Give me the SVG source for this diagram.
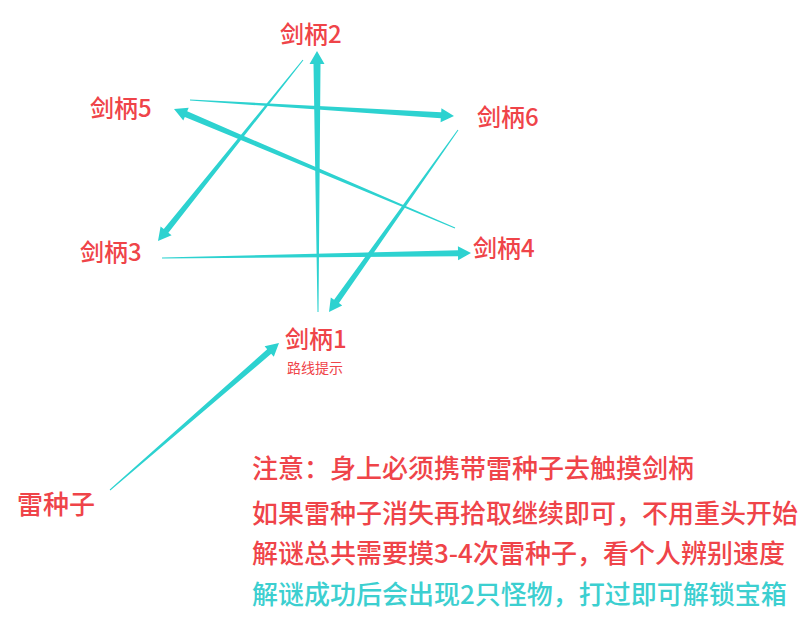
<svg xmlns="http://www.w3.org/2000/svg" width="808" height="625" viewBox="0 0 808 625">
<style>
.lbl{font-family:"Noto Sans CJK SC","Noto Sans",sans-serif;fill:#ef4449;font-size:24px;font-weight:500}
.sub{font-family:"Noto Sans CJK SC","Noto Sans",sans-serif;fill:#ef4449;font-size:14px}
.note{font-family:"Noto Sans CJK SC","Noto Sans",sans-serif;fill:#ef4449;font-size:26px;font-weight:500}
.note2{font-family:"Noto Sans CJK SC","Noto Sans",sans-serif;fill:#3ccfd0;font-size:26px;font-weight:500}
.arr{fill:#2dd2d0;stroke:none}
</style>
<rect width="808" height="625" fill="#ffffff"/>
<g id="connectors">
<polygon class="arr" points="110.3,490.4 271.2,353.8 273.8,356.8 279,343 264.6,346.2 267.2,349.2 109.7,489.6"/>
<polygon class="arr" points="318.5,312 320.5,64 324.5,64 317,51 309.5,64 313.5,64 317.5,312"/>
<polygon class="arr" points="303.4,60.3 168.4,232.8 171.6,235.3 158,241 160.6,226.5 163.8,229 302.6,59.7"/>
<polygon class="arr" points="162,258.5 458,256.2 458.1,260.2 471,253 457.9,246.2 458,250.2 162,257.5"/>
<polygon class="arr" points="455.2,227.5 187.2,111.3 188.7,107.7 174,109 183.3,120.5 184.8,116.9 454.8,228.5"/>
<polygon class="arr" points="190,100.5 440.8,118.2 440.6,122.2 454,116 441.4,108.2 441.2,112.2 190,99.5"/>
<polygon class="arr" points="458.4,130.3 339,303.1 342.2,305.5 329,312 330.8,297.4 334.1,299.7 457.6,129.7"/>
</g>
<g id="node-jb2"><text class="lbl" x="280" y="43">剑柄2</text></g>
<g id="node-jb5"><text class="lbl" x="90" y="117">剑柄5</text></g>
<g id="node-jb6"><text class="lbl" x="477" y="126">剑柄6</text></g>
<g id="node-jb3"><text class="lbl" x="80" y="261">剑柄3</text></g>
<g id="node-jb4"><text class="lbl" x="473" y="257">剑柄4</text></g>
<g id="node-jb1"><text class="lbl" x="285" y="348">剑柄1</text><text class="sub" x="287" y="373">路线提示</text></g>
<g id="node-seed"><text class="note" x="17" y="514">雷种子</text></g>
<g id="notes">
<text class="note" x="252" y="478">注意：身上必须携带雷种子去触摸剑柄</text>
<text class="note" x="252" y="523">如果雷种子消失再拾取继续即可，不用重头开始</text>
<text class="note" x="252" y="563">解谜总共需要摸3-4次雷种子，看个人辨别速度</text>
<text class="note2" x="252" y="604">解谜成功后会出现2只怪物，打过即可解锁宝箱</text>
</g>
</svg>
